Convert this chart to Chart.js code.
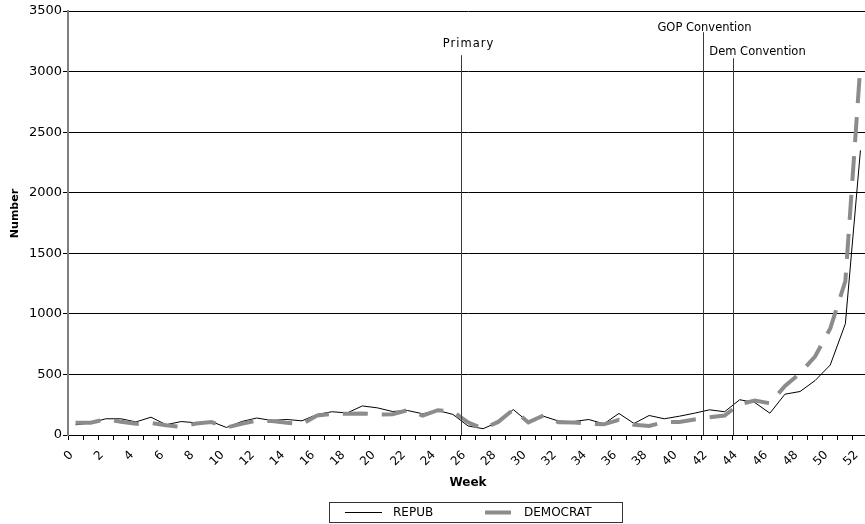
<!DOCTYPE html>
<html><head><meta charset="utf-8">
<script src="https://cdn.jsdelivr.net/npm/chart.js@4/dist/chart.umd.min.js"></script>
<style>
html,body{margin:0;padding:0;overflow:hidden;background:#fff;}
#wrap{position:relative;width:868px;height:524px;}
</style></head><body>
<div id="wrap"><canvas id="c"></canvas></div>
<script>
// ---- data ----
const weeks = [0,1,2,3,4,5,6,7,8,9,10,11,12,13,14,15,16,17,18,19,20,21,22,23,24,25,26,27,28,29,30,31,32,33,34,35,36,37,38,39,40,41,42,43,44,45,46,47,48,49,50,51,52];
const tickLabels = ['0','','2','','4','','6','','8','','10','','12','','14','','16','','18','','20','','22','','24','','26','','28','','30','','32','','34','','36','','38','','40','','42','','44','','46','','48','','50','','52'];
const repub = [84,100,134,134,108,147,85,111,101,111,62,111,140,120,128,117,170,192,182,240,224,194,202,175,202,170,75,52,106,210,106,155,115,111,128,92,178,95,161,134,155,180,208,192,291,268,180,337,359,450,578,918,2350];
const democrat = [101,101,130,109,92,100,80,68,95,107,62,92,120,115,101,90,160,175,175,178,169,172,205,160,205,192,105,51,108,210,104,161,105,104,92,88,125,85,75,106,108,128,147,161,255,285,262,405,510,650,880,1270,3060];
const seriesNames = ['REPUB','DEMOCRAT'];
const eventNames = ['Primary','GOP Convention','Dem Convention'];
const eventWeeks = [26,42,44];
const yTicks = [0,500,1000,1500,2000,2500,3000,3500];
const yTitle = 'Number';
const xTitle = 'Week';

// ---- styles (not data) ----
const eventStyle = [
  {top:3135, dx:7,  ty:44, spacing:'1px'},
  {top:3325, dx:1,  ty:28, spacing:'0px'},
  {top:3110, dx:24, ty:52, spacing:'0px'}
];
const FONT = '"DejaVu Sans", Verdana, sans-serif';

const overlay = {
  id:'overlay',
  afterDatasetsDraw(chart){
    const {ctx, scales:{x,y}, chartArea} = chart;
    const half = (x.getPixelForValue(1) - x.getPixelForValue(0)) / 2;
    ctx.save();
    ctx.setLineDash([]);
    ctx.strokeStyle = '#3a3a3a';
    ctx.lineWidth = 1;
    ctx.fillStyle = '#000';
    ctx.font = '11.5px ' + FONT;
    ctx.textAlign = 'center';
    ctx.textBaseline = 'middle';
    eventNames.forEach((name,i)=>{
      const px = Math.round(x.getPixelForValue(weeks.indexOf(eventWeeks[i])) - half) + 1.5;
      const st = eventStyle[i];
      ctx.beginPath();
      ctx.moveTo(px, y.getPixelForValue(st.top));
      ctx.lineTo(px, chartArea.bottom);
      ctx.stroke();
      if ('letterSpacing' in ctx) ctx.letterSpacing = st.spacing;
      ctx.fillText(name, px + st.dx, st.ty);
    });
    ctx.restore();
  },
  afterDraw(chart){
    const {ctx} = chart;
    ctx.save();
    ctx.setLineDash([]);
    // y axis title
    ctx.fillStyle = '#000';
    ctx.font = 'bold 11px ' + FONT;
    ctx.textAlign = 'center'; ctx.textBaseline = 'middle';
    ctx.translate(15.5, 213.5); ctx.rotate(-Math.PI/2);
    ctx.fillText(yTitle, 0, 0);
    ctx.setTransform(1,0,0,1,0,0);
    // legend
    ctx.strokeStyle = '#333';
    ctx.lineWidth = 1;
    ctx.strokeRect(329.5, 502.5, 293, 20);
    const ds = chart.data.datasets;
    const cy = 512.5;
    ctx.fillStyle = ds[0].borderColor;
    ctx.fillRect(345, cy - 0.5, 37, ds[0].borderWidth);
    ctx.fillStyle = ds[1].borderColor;
    ctx.fillRect(485, cy - ds[1].borderWidth/2, 26, ds[1].borderWidth);
    ctx.fillStyle = '#000';
    ctx.font = '12px ' + FONT;
    ctx.textAlign = 'left'; ctx.textBaseline = 'middle';
    ctx.fillText(ds[0].label, 393, cy + 0.5);
    ctx.fillText(ds[1].label, 524, cy + 0.5);
    ctx.restore();
  }
};

new Chart(document.getElementById('c'), {
  type:'line',
  data:{
    labels: weeks,
    datasets:[
      {label:seriesNames[0], data:repub, borderColor:'#000', borderWidth:1, pointRadius:0, tension:0, order:1},
      {label:seriesNames[1], data:democrat, borderColor:'#8c8c8c', borderWidth:4, borderDash:[25,14], borderCapStyle:'butt', pointRadius:0, tension:0, order:0}
    ]
  },
  options:{
    responsive:true, maintainAspectRatio:false, animation:false,
    layout:{padding:{left:9, top:11, right:0, bottom:34}},
    plugins:{legend:{display:false}, tooltip:{enabled:false}},
    scales:{
      x:{
        offset:true,
        grid:{display:true, drawOnChartArea:false, drawTicks:true, tickLength:5, offset:true, color:'#000', lineWidth:1},
        border:{display:true, color:'#000', width:1},
        ticks:{autoSkip:false, minRotation:45, maxRotation:45, padding:8, labelOffset:-4, color:'#000',
          font:{family:FONT, size:12},
          callback:(v,i)=>tickLabels[i]},
        title:{display:true, text:xTitle, color:'#000', font:{family:FONT, size:12, weight:'bold'}, padding:{top:0,bottom:0}},
        afterFit:(s)=>{ s.height = 55; s.paddingLeft = 0; s.paddingRight = 0; }
      },
      y:{
        min:0, max:3500,
        afterBuildTicks:(s)=>{ s.ticks = yTicks.map(v=>({value:v})); },
        grid:{color:'#000', lineWidth:1, tickLength:5, drawTicks:true},
        border:{display:true, color:'#808080', width:2},
        ticks:{padding:1, color:'#000', font:{family:FONT, size:13}, callback:(v)=>String(v)},
        title:{display:false},
        afterFit:(s)=>{ s.width = 59; s.paddingTop = 0; s.paddingBottom = 0; }
      }
    }
  },
  plugins:[overlay]
});
</script>
</body></html>
